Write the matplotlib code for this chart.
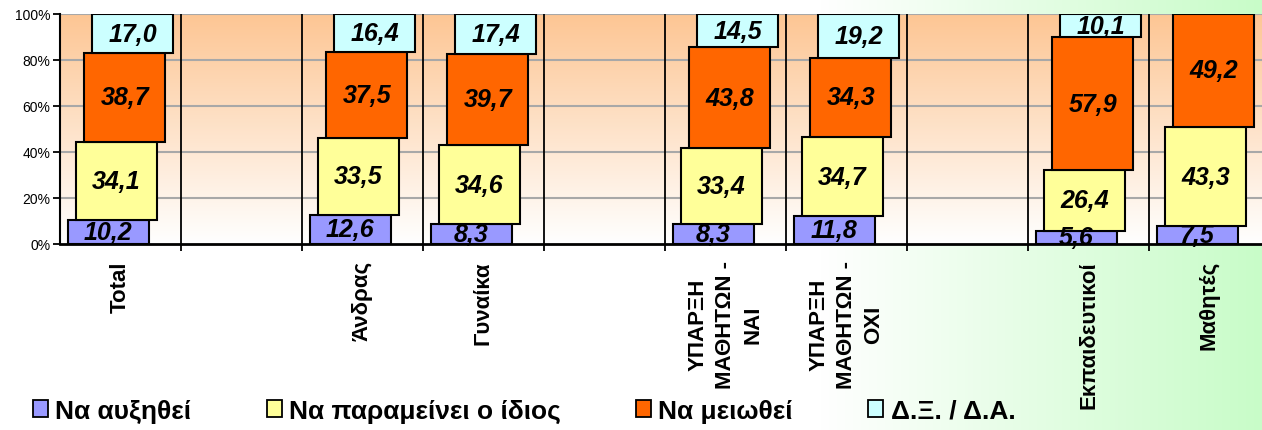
import numpy as np
import matplotlib
matplotlib.use('Agg')
import matplotlib.pyplot as plt
from matplotlib.patches import Patch
from matplotlib.ticker import FixedLocator, PercentFormatter

plt.rcParams['font.family'] = ['Liberation Sans', 'DejaVu Sans']

# ---------------- data ----------------
categories = ["Total", "", "Άνδρας", "Γυναίκα", "",
              "ΥΠΑΡΞΗ\nΜΑΘΗΤΩΝ -\nΝΑΙ", "ΥΠΑΡΞΗ\nΜΑΘΗΤΩΝ -\nΟΧΙ", "",
              "Εκπαιδευτικοί", "Μαθητές"]
nan = np.nan
increase = [10.2, nan, 12.6, 8.3, nan, 8.3, 11.8, nan, 5.6, 7.5]
same = [34.1, nan, 33.5, 34.6, nan, 33.4, 34.7, nan, 26.4, 43.3]
decrease = [38.7, nan, 37.5, 39.7, nan, 43.8, 34.3, nan, 57.9, 49.2]
dont_know = [17.0, nan, 16.4, 17.4, nan, 14.5, 19.2, nan, 10.1, 0.0]
series_names = ["Να αυξηθεί", "Να παραμείνει ο ίδιος", "Να μειωθεί", "Δ.Ξ. / Δ.Α."]
yticks = [0, 20, 40, 60, 80, 100]

colors = ['#9999FF', '#FFFF99', '#FF6600', '#CCFFFF']

# ---------------- layout ----------------
W, H = 1262, 431
fig = plt.figure(figsize=(W / 100, H / 100), dpi=100)

# figure background gradient (white -> light green on the right)
bg = fig.add_axes([0, 0, 1, 1], zorder=-10)
xs = np.arange(W)
t = np.clip((xs - 820) / (W - 820), 0, 1)
start = np.array([1.0, 1.0, 1.0])
end = np.array([200, 252, 200]) / 255
row = start[None, :] * (1 - t[:, None]) + end[None, :] * t[:, None]
bg.imshow(row[None, :, :], aspect='auto', extent=[0, 1, 0, 1])
bg.set_axis_off()

left_px, top_px, bottom_px = 60, 15, 244.5
slot = 121.0
ax = fig.add_axes([left_px / W, (H - bottom_px) / H, (W - left_px) / W,
                   (bottom_px - top_px) / H])
ax.set_facecolor('none')

# plot area gradient (peach at top -> white at bottom)
g = np.linspace(0, 1, 256)[:, None]
top_c = np.array([253, 198, 148]) / 255
bot_c = np.array([255, 255, 255]) / 255
grad = top_c[None, :] * (1 - g) + bot_c[None, :] * g
grad = np.repeat(grad[:, None, :], 2, axis=1)
ax.imshow(grad, aspect='auto', extent=[0, 1, 0, 1], transform=ax.transAxes,
          zorder=0)

n = len(categories)
idx = np.arange(n)
xmax = -0.5 + (W - left_px) / slot
ax.set_xlim(-0.5, xmax)
ax.set_ylim(0, 100)
ax.set_autoscale_on(False)

# gridlines and separators
for yv in yticks[1:]:
    ax.axhline(yv, color='#A8A8A8', lw=1.5, zorder=1)
for b in np.arange(0.5, n - 0.5, 1.0):
    ax.axvline(b, color='black', lw=1.3, zorder=1)

shift = 8.3 / slot
width = 81 / slot
series = [increase, same, decrease, dont_know]
bottom = np.zeros(n)
for k, (vals, col) in enumerate(zip(series, colors)):
    v = np.array(vals, dtype=float)
    valid = ~np.isnan(v)
    xk = idx[valid] + (k - 1.5) * shift
    lws = [1.5 if val > 0 else 0 for val in v[valid]]
    ax.bar(xk, v[valid], width=width, bottom=bottom[valid], color=col,
           edgecolor='black', linewidth=lws, zorder=3)
    for x, val, b0 in zip(xk, v[valid], bottom[valid]):
        if val > 0:
            ax.text(x, b0 + val / 2, f"{val:.1f}".replace('.', ','),
                    ha='center', va='center', fontsize=18,
                    fontweight='bold', fontstyle='italic', zorder=5)
    bottom[valid] += v[valid]

# axes styling
for s in ['top', 'right']:
    ax.spines[s].set_visible(False)
ax.spines['left'].set_linewidth(1.5)
ax.spines['bottom'].set_linewidth(2)
ax.spines['left'].set_zorder(6)
ax.spines['bottom'].set_zorder(6)

ax.set_yticks(yticks)
ax.yaxis.set_major_formatter(PercentFormatter(decimals=0))
ax.tick_params(axis='y', length=5, width=1.3, labelsize=10, pad=2)

ax.xaxis.set_major_locator(FixedLocator(np.arange(0.5, n - 0.5, 1.0)))
ax.tick_params(axis='x', which='major', length=5, width=1.3, labelbottom=False)
ax.set_xticks(idx, categories, minor=True, rotation=90, fontsize=16,
              fontweight='bold', ha='center', va='top',
              multialignment='center', linespacing=1.4)
ax.tick_params(axis='x', which='minor', length=0, pad=12)

# legend
handles = [Patch(facecolor=c, edgecolor='black', linewidth=1.3) for c in colors]
fig.legend(handles, series_names, loc='center left',
           bbox_to_anchor=(33 / W, (H - 412) / H), ncol=4, frameon=False,
           prop={'size': 19, 'weight': 'bold'}, handlelength=0.57,
           handleheight=0.57, handletextpad=0.28, columnspacing=2.85,
           borderpad=0, borderaxespad=0)

fig.savefig('out.png', dpi=100)
